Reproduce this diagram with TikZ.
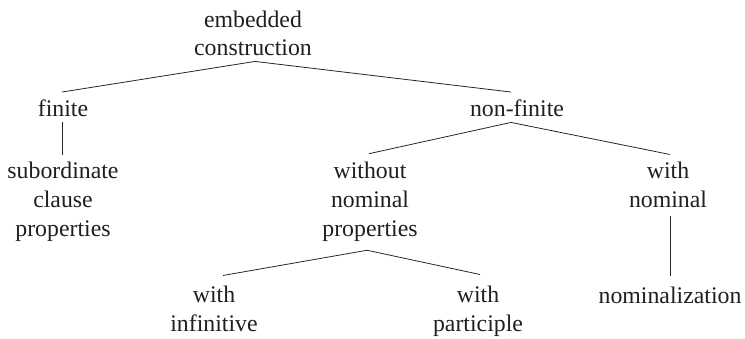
\documentclass[tikz,border=0pt]{standalone}
\usepackage{fontspec}
\setmainfont{Liberation Serif}
\usetikzlibrary{calc}
\begin{document}
\begin{tikzpicture}[x=1pt,y=1pt,
  lbl/.style={align=center, inner sep=0pt, anchor=base, text=black!88,
    font={\fontsize{23.8}{28.8}\selectfont}},
  edge/.style={draw=black!85, line width=0.8pt}]
\useasboundingbox (0,0) rectangle (745,338);
\node[lbl] (root) at (253,282) {embedded\\construction};
\node[lbl] (finite) at (63,221) {finite};
\node[lbl] (nonfinite) at (517,221) {non-finite};
\node[lbl] (subord) at (63,102) {subordinate\\clause\\properties};
\node[lbl] (without) at (370,102) {without\\nominal\\properties};
\node[lbl] (withnom) at (668,131) {with\\nominal};
\node[lbl] (inf) at (214,7) {with\\infinitive};
\node[lbl] (part) at (478,7) {with\\participle};
\node[lbl] (nomz) at (670,35) {nominalization};
\draw[edge] ($(root.south)+(2,-5)$) -- ($(finite.north)+(-1,8)$);
\draw[edge] ($(root.south)+(2,-5)$) -- ($(nonfinite.north)+(-6,8)$);
\draw[edge] ($(finite.south)+(-1,-5)$) -- ($(subord.north)+(-1,7)$);
\draw[edge] ($(nonfinite.south)+(-6,-5)$) -- ($(without.north)+(-1,8)$);
\draw[edge] ($(nonfinite.south)+(-6,-5)$) -- ($(withnom.north)+(2,7)$);
\draw[edge] ($(without.south)+(-3,-9)$) -- ($(inf.north)+(9,10)$);
\draw[edge] ($(without.south)+(-3,-9)$) -- ($(part.north)+(2,11)$);
\draw[edge] ($(withnom.south)+(2,-9)$) -- ($(nomz.north)+(0,10)$);
\end{tikzpicture}
\end{document}
